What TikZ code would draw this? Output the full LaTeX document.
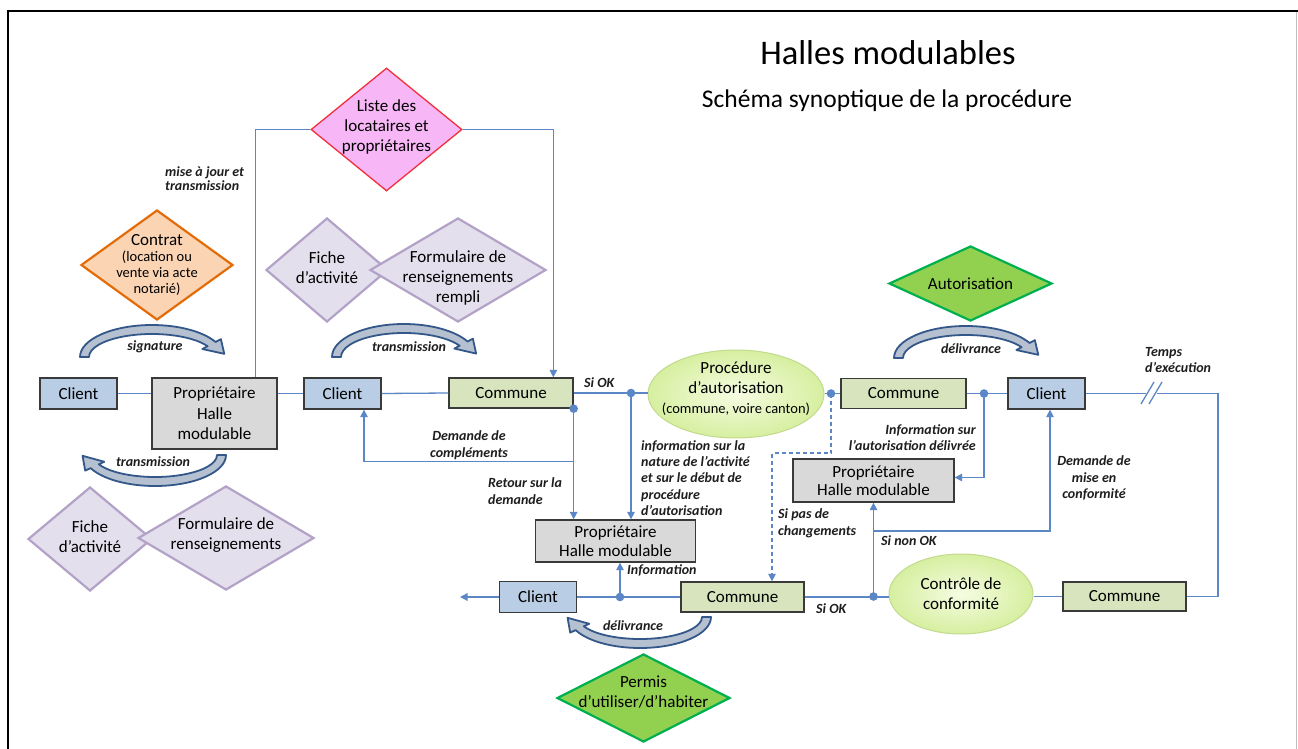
\documentclass[tikz,border=0pt]{standalone}
\usepackage{fontspec}
\setmainfont{Carlito}
\usetikzlibrary{shapes.geometric,arrows.meta,calc}
\definecolor{linecol}{HTML}{5B87C6}
\definecolor{boxline}{HTML}{3A3A3A}
\definecolor{clientfill}{HTML}{B9CDE5}
\definecolor{communefill}{HTML}{D7E4BD}
\definecolor{propfill}{HTML}{D9D9D9}
\definecolor{ovalin}{HTML}{F6FCE2}
\definecolor{ovalout}{HTML}{D6EFA0}
\definecolor{ovalline}{HTML}{C3DA8E}
\definecolor{pinkfill}{HTML}{F7B6F6}
\definecolor{pinkline}{HTML}{F0303C}
\definecolor{orfill}{HTML}{FBD4B4}
\definecolor{orline}{HTML}{E36C09}
\definecolor{purfill}{HTML}{E4DFEC}
\definecolor{purline}{HTML}{B3A2C7}
\definecolor{grfill}{HTML}{92D050}
\definecolor{grline}{HTML}{00B050}
\definecolor{bentline}{HTML}{34578A}
\definecolor{bentfill}{HTML}{B5C1D0}
\definecolor{lbltext}{HTML}{1E1E1E}
\tikzset{
  box/.style={draw=boxline, line width=1.3pt, inner sep=0pt, align=center, font=\fontsize{17}{20.5}\selectfont, text=black},
  clientbox/.style={box, fill=clientfill, minimum width=77pt, minimum height=31pt},
  communebox/.style={box, fill=communefill, minimum width=124pt, minimum height=30pt},
  propbox/.style={box, fill=propfill},
  dia/.style={diamond, inner sep=0pt, line width=2.2pt},
  diatxt/.style={align=center, inner sep=0pt, font=\fontsize{17}{20}\selectfont, text=black},
  oval/.style={ellipse, inner sep=0pt, draw=ovalline, line width=1pt, inner color=ovalin, outer color=ovalout},
  lbl/.style={inner sep=0pt, font=\fontsize{14}{16.5}\selectfont\bfseries\itshape, text=lbltext},
  conn/.style={draw=linecol, line width=1.3pt},
  arr/.style={conn, -{Triangle[length=7.5pt,width=7.5pt]}},
  jdot/.style={fill=linecol},
  bent/.style={draw=bentline, line width=1.8pt, fill=bentfill, line join=round}
}
% curved block arrow: cx, cy, a, b, start angle, end angle (y up inside)
\newcommand\bentarrow[6]{%
  \pgfmathsetmacro\ba{#3}\pgfmathsetmacro\bb{#4}%
  \pgfmathsetmacro\sg{(#6>#5)?1:-1}%
  \pgfmathsetmacro\ia{#3-9}\pgfmathsetmacro\ib{#4-9}%
  \pgfmathsetmacro\oa{#3+6}\pgfmathsetmacro\ob{#4+6}%
  \pgfmathsetmacro\ja{#3-15}\pgfmathsetmacro\jb{#4-15}%
  \pgfmathsetmacro\ma{#3-4.5}\pgfmathsetmacro\mb{#4-4.5}%
  \pgfmathsetmacro\tx{-\ma*sin(#6)*\sg}\pgfmathsetmacro\ty{\mb*cos(#6)*\sg}%
  \pgfmathsetmacro\tn{sqrt(\tx*\tx+\ty*\ty)}%
  \pgfmathsetmacro\px{\ma*cos(#6)+16*\tx/\tn}\pgfmathsetmacro\py{\mb*sin(#6)+16*\ty/\tn}%
  \begin{scope}[shift={(#1,#2)},y=1pt]
    \filldraw[bent] ({\ba*cos(#5)},{\bb*sin(#5)}) arc[start angle=#5,end angle=#6,x radius=\ba,y radius=\bb]
      -- ({\oa*cos(#6)},{\ob*sin(#6)}) -- (\px,\py) -- ({\ja*cos(#6)},{\jb*sin(#6)})
      -- ({\ia*cos(#6)},{\ib*sin(#6)}) arc[start angle=#6,end angle=#5,x radius=\ia,y radius=\ib] -- cycle;
  \end{scope}}
\begin{document}
\begin{tikzpicture}[x=1pt,y=-1pt]
\useasboundingbox (0,0) rectangle (1298,749);
\fill[white] (0,0) rectangle (1298,749);
% frame
\draw[black, line width=2pt] (7,11) -- (1298,11);
\draw[black, line width=2pt] (8,10) -- (8,749);
\draw[black!25, line width=0.8pt] (1296,12) -- (1296,749);

% titles
\node[font=\fontsize{34.5}{40}\selectfont] (title) at (888,53) {Halles modulables};
\node[font=\fontsize{25.5}{30}\selectfont] (subtitle) at (887,101) {Schéma synoptique de la procédure};

% diamonds
\node[dia, draw=pinkline, fill=pinkfill, line width=1.3pt, minimum width=151pt, minimum height=123pt,
  label={[diatxt,yshift=3pt]center:{Liste des\\locataires et\\propriétaires}}] (liste) at (386.5,129.5) {};
\node[dia, draw=orline, fill=orfill, minimum width=152pt, minimum height=110pt,
  label={[diatxt,font=\fontsize{14.5}{16}\selectfont]center:{{\fontsize{17}{19}\selectfont Contrat}\\(location ou\\vente via acte\\notarié)}}] (contrat) at (157,265) {};
\node[dia, draw=purline, fill=purfill, minimum width=122pt, minimum height=104pt,
  label={[diatxt,yshift=2pt]center:{Fiche\\d’activité}}] (fiche1) at (327,270) {};
\node[dia, draw=purline, fill=purfill, minimum width=176pt, minimum height=104pt,
  label={[diatxt,yshift=-8pt]center:{Formulaire de\\renseignements\\rempli}}] (form1) at (458,270) {};
\node[dia, draw=purline, fill=purfill, minimum width=124pt, minimum height=104pt,
  label={[diatxt,yshift=2.5pt]center:{Fiche\\d’activité}}] (fiche2) at (90,539) {};
\node[dia, draw=purline, fill=purfill, minimum width=176pt, minimum height=104pt,
  label={[diatxt,yshift=2.5pt]center:{Formulaire de\\renseignements}}] (form2) at (226,538) {};
\node[dia, draw=grline, fill=grfill, minimum width=163pt, minimum height=75pt,
  label={[diatxt]center:{Autorisation}}] (autor) at (970.5,283.5) {};
\node[dia, draw=grline, fill=grfill, minimum width=173pt, minimum height=88pt,
  label={[diatxt,yshift=6pt]center:{Permis\\d’utiliser/d’habiter}}] (permis) at (643.5,698) {};

% curved block arrows
\bentarrow{152}{357}{72}{32}{180}{28}
\bentarrow{404}{357}{72}{33}{180}{28}
\bentarrow{966}{358}{72}{32}{180}{28}
\bentarrow{155}{455}{71}{31}{0}{-155}
\bentarrow{640}{617}{71}{31}{0}{-155}
\node[lbl] (lsig) at (155,347) {signature};
\node[lbl] (ltr1) at (409,347) {transmission};
\node[lbl] (ldel1) at (971,349) {délivrance};
\node[lbl] (ltr2) at (153,462) {transmission};
\node[lbl] (ldel2) at (633,626) {délivrance};

% boxes
\node[clientbox] (client1) at (78.5,393.5) {Client};
\node[propbox, minimum width=125pt, minimum height=71pt] (prop1) at (214.5,413.5) {Propriétaire\\Halle\\modulable};
\node[clientbox] (client2) at (342.5,393.5) {Client};
\node[communebox] (commune1) at (511,393) {Commune};
\node[oval, minimum width=176pt, minimum height=88pt,
  label={[diatxt,yshift=5pt]center:{Procédure\\d’autorisation\\{\fontsize{14.5}{16}\selectfont(commune, voire canton)}}}] (proc) at (736,394) {};
\node[communebox, minimum width=125pt] (commune2) at (903.5,393.5) {Commune};
\node[clientbox] (client3) at (1046.5,393.5) {Client};
\node[propbox, minimum width=160pt, minimum height=42pt, font=\fontsize{17}{18.5}\selectfont] (prop2) at (615.5,541) {Propriétaire\\Halle modulable};
\node[propbox, minimum width=161pt, minimum height=43pt, font=\fontsize{17}{18.5}\selectfont] (prop3) at (873.5,480.5) {Propriétaire\\Halle modulable};
\node[clientbox] (client4) at (538,597) {Client};
\node[communebox, minimum width=123pt] (commune3) at (742.5,597) {Commune};
\node[oval, minimum width=144pt, minimum height=80pt,
  label={[diatxt,yshift=0pt]center:{Contrôle de\\conformité}}] (ctrl) at (961,594) {};
\node[communebox, minimum width=123pt, minimum height=29pt] (commune5) at (1124.5,596.5) {Commune};

% junction coordinates
\coordinate (j0) at (commune1.south east);
\coordinate (j1) at (631,393);
\coordinate (j2) at ($(j0)+(0,53)$);
\coordinate (j3) at (831,393.5);
\coordinate (j4) at (984,393.5);
\coordinate (j5) at (873.5,596.5);
\coordinate (j6) at (873.5,531);
\coordinate (j7) at (620,597);
\coordinate (brkA) at (1146,393.5);
\coordinate (brkB) at (1157,393.5);
\coordinate (rt) at (1218,393.5);
\coordinate (out) at (460,597);

% connectors
\draw[conn] ($(prop1.north west)+(104,0)$) |- (liste.west);
\draw[arr] (liste.east) -| ($(commune1.north west)+(105,0)$);
\draw[conn] (client1.east) -- (client1.east -| prop1.west);
\draw[conn] (client2.west -| prop1.east) -- (client2.west);
\draw[conn] (client2.east) -- (commune1.west);
\draw[conn] (commune1.east) -- (commune1.east -| proc.west);
\draw[conn] (commune2.west -| proc.east) -- (commune2.west);
\draw[conn] (commune2.east) -- (client3.west);
\draw[arr] (j0) -- (j0 |- prop2.north);
\draw[arr] (j2) -| ($(client2.south)+(21.5,0)$);
\draw[arr] (j1) -- (j1 |- prop2.north);
\draw[arr, dashed, dash pattern=on 4pt off 3pt] (j3) -- ++(0,59.5) -| ($(commune3.north)+(29.5,0)$);
\draw[arr] (j4) |- ($(prop3.east)+(0,-3)$);
\draw[conn] (client3.east) -- (brkA);
\draw[conn] (brkB) -- (rt) |- (commune5.east);
\draw[conn] (1141,404) -- (1154,382);
\draw[conn] (1149,404) -- (1162,382);
\draw[conn] (commune5.west) -- (commune5.west -| ctrl.east);
\draw[conn] (commune3.east) -- (commune3.east -| ctrl.west);
\draw[arr] (j5) -- (prop3.south);
\draw[arr] (j6) -| ($(client3.south)+(3.5,0)$);
\draw[arr] (j7) -- (j7 |- prop2.south);
\draw[conn] (client4.east) -- (commune3.west);
\draw[arr] (client4.west) -- (out);
\foreach \d in {j0,j1,j3,j4,j5,j7} \fill[jdot] (\d) circle (4.3);

% labels
\node[lbl, anchor=west, align=left, font=\fontsize{14}{14}\selectfont\bfseries\itshape] (lmaj) at (165,179) {mise à jour et\\transmission};
\node[lbl, anchor=west] (lsiok1) at (584,383) {Si OK};
\node[lbl, align=center] (ldem) at (469,445) {Demande de\\compléments};
\node[lbl, anchor=west, align=left] (lret) at (488,491) {Retour sur la\\demande};
\node[lbl, anchor=west, align=left, font=\fontsize{14}{16.3}\selectfont\bfseries\itshape] (linfo) at (641,478) {information sur la\\nature de l’activité\\et sur le début de\\procédure\\d’autorisation};
\node[lbl, anchor=west] (linf2) at (627,570) {Information};
\node[lbl, anchor=west, align=left] (lpas) at (778,523.5) {Si pas de\\changements};
\node[lbl, anchor=east, align=right] (laut) at (976,437.5) {Information sur\\l’autorisation délivrée};
\node[lbl, align=center] (lmise) at (1094,478) {Demande de\\mise en\\conformité};
\node[lbl, anchor=west] (lnon) at (881,541) {Si non OK};
\node[lbl, anchor=west] (lsiok2) at (816,609) {Si OK};
\node[lbl, anchor=west, align=left] (ltemps) at (1145,360) {Temps\\d’exécution};
\end{tikzpicture}
\end{document}
